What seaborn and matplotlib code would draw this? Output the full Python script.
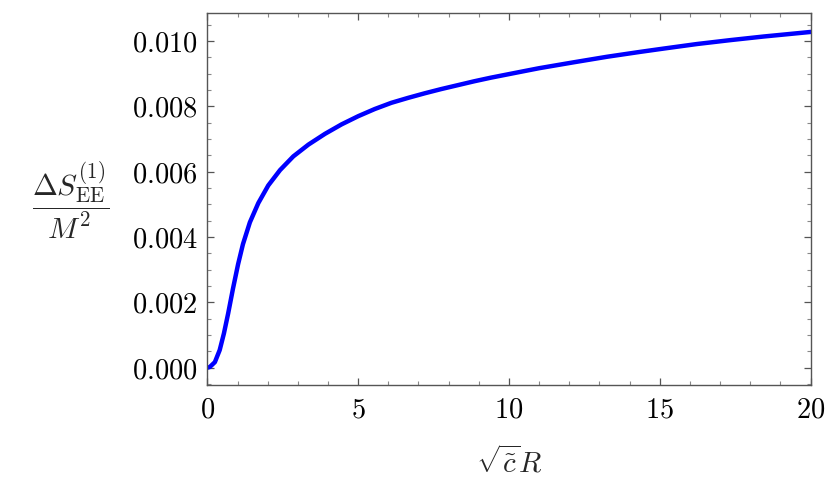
import numpy as np
import pandas as pd
import matplotlib
matplotlib.use("Agg")
import matplotlib.pyplot as plt
import seaborn as sns
from matplotlib.ticker import MultipleLocator, FuncFormatter

# values
x_vals = [0, 0.08, 0.25, 0.41, 0.55, 0.69, 0.85, 1.02, 1.18, 1.41, 1.69, 2.02,
          2.41, 2.85, 3.35, 3.90, 4.45, 5.0, 5.55, 6.1, 6.65, 7.2, 7.75, 8.3,
          8.85, 9.4, 9.95, 10.5, 11.0, 12.14, 13.25, 14.35, 15.12, 16.23,
          17.34, 18.44, 20]
y_vals = [0, 0.00002, 0.00017, 0.00054, 0.00105, 0.00166, 0.00242, 0.00317,
          0.00378, 0.00445, 0.00504, 0.00558, 0.00605, 0.00647, 0.00683,
          0.00716, 0.00745, 0.00770, 0.00792, 0.00811, 0.00826, 0.00840,
          0.00853, 0.00865, 0.00877, 0.00888, 0.00898, 0.00908, 0.00917,
          0.00935, 0.00952, 0.00967, 0.00977, 0.00991, 0.01003, 0.01014,
          0.01028]
x_ticks = [0, 5, 10, 15, 20]
y_ticks = [0.000, 0.002, 0.004, 0.006, 0.008, 0.010]

df = pd.DataFrame({"x": x_vals, "y": y_vals})

sns.set_style("ticks")
plt.rcParams["mathtext.fontset"] = "cm"
plt.rcParams["font.family"] = ["DejaVu Serif"]

fig = plt.figure(figsize=(8.3, 4.98), dpi=100)
ax = fig.add_axes([0.2498, 0.2269, 0.7269, 0.747])

sns.lineplot(data=df, x="x", y="y", ax=ax, color=(0, 0, 1), linewidth=3.2,
             estimator=None, sort=True)
ax.lines[0].set_solid_joinstyle("round")

ax.set_xlim(0, 20)
ax.set_ylim(-0.00053, 0.01086)
ax.set_xticks(x_ticks)
ax.set_yticks(y_ticks)
ax.xaxis.set_minor_locator(MultipleLocator(1))
ax.yaxis.set_minor_locator(MultipleLocator(0.0005))
ax.xaxis.set_major_formatter(FuncFormatter(lambda v, p: r"$%d$" % round(v)))
ax.yaxis.set_major_formatter(FuncFormatter(lambda v, p: r"$%.3f$" % v))

frame_col = "#555555"
for s in ax.spines.values():
    s.set_visible(True)
    s.set_color(frame_col)
    s.set_linewidth(1.0)
ax.tick_params(which="both", direction="in", top=True, right=True,
               color=frame_col, labelsize=20.5, labelcolor="black")
ax.tick_params(which="major", length=5, width=0.9)
ax.tick_params(axis="y", which="major", pad=7)
ax.tick_params(axis="x", which="major", pad=8)
ax.tick_params(which="minor", length=3, width=0.8, color="#888888")

ax.set_xlabel(r"$\sqrt{\tilde{c}}R$", fontsize=21, labelpad=16)
ax.set_ylabel(r"$\dfrac{\Delta S_{\mathrm{EE}}^{(1)}}{M^2}$", fontsize=21.5,
              rotation=0, ha="center", va="center")
ax.yaxis.set_label_coords(-0.226, 0.497)
ax.grid(False)

fig.savefig("out.png", dpi=100)
